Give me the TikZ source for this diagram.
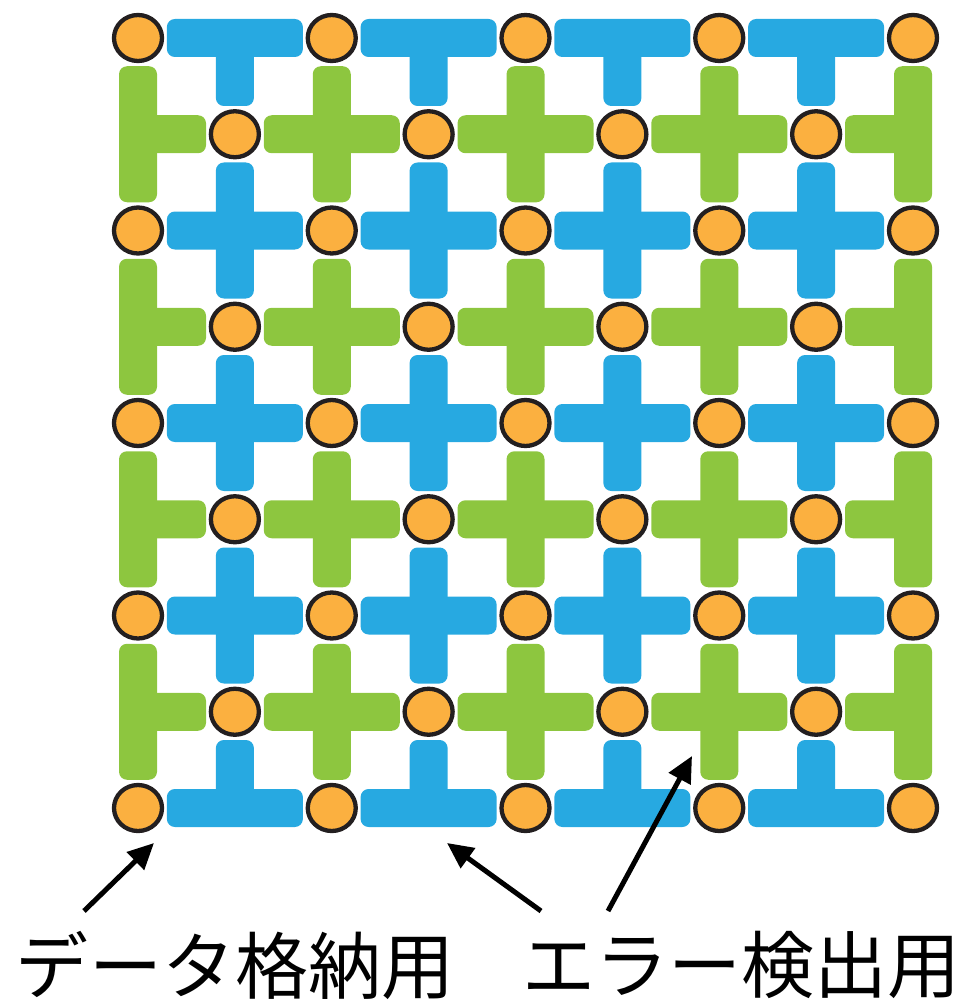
\documentclass[tikz,border=0pt]{standalone}
\usepackage{fontspec}
\newfontfamily\jpfont{Noto Sans CJK JP}
\usetikzlibrary{arrows.meta,shapes.geometric}
\definecolor{qblue}{HTML}{27A9E1}
\definecolor{qgreen}{HTML}{8DC63F}
\definecolor{qorange}{HTML}{FBB040}
\definecolor{qedge}{HTML}{231F20}
\newcommand\qarmH[3]{\fill[#1,rounded corners=8] ({#2-68},{#3-19}) rectangle ({#2+68},{#3+19});}
\newcommand\qarmV[3]{\fill[#1,rounded corners=8] ({#2-19},{#3-68}) rectangle ({#2+19},{#3+68});}
% stem: color, cx, cy, direction (+1 right/down, -1 left/up)
\newcommand\qstemV[4]{\fill[#1,rounded corners=8] ({#2-19},{#3}) rectangle ({#2+19},{#3+68*#4});}
\newcommand\qstemH[4]{\fill[#1,rounded corners=8] ({#2},{#3-19}) rectangle ({#2+68*#4},{#3+19});}
\begin{document}
\begin{tikzpicture}[x=1pt,y=-1pt,
  dataq/.style={ellipse,draw=qedge,fill=qorange,line width=4.3pt,minimum width=48pt,minimum height=46pt,inner sep=0pt},
  lbl/.style={font=\jpfont\fontsize{73}{80}\selectfont,inner sep=0pt,text=black},
  arr/.style={line width=5pt,-{Triangle[length=26pt,width=24pt]}}]
\useasboundingbox (0,0) rectangle (966,1003);
% blue (X-type) stabilizers
\foreach \i in {0,...,3}{
  \foreach \j in {0,...,4}{
    \pgfmathsetmacro\cx{138+193.75*\i+96.875}
    \pgfmathsetmacro\cy{38+192.5*\j}
    \qarmH{qblue}{\cx}{\cy}
    \ifnum\j=0 \qstemV{qblue}{\cx}{\cy}{1}
    \else\ifnum\j=4 \qstemV{qblue}{\cx}{\cy}{-1}
    \else \qarmV{qblue}{\cx}{\cy}\fi\fi
  }
}
% green (Z-type) stabilizers
\foreach \i in {0,...,4}{
  \foreach \j in {0,...,3}{
    \pgfmathsetmacro\cx{138+193.75*\i}
    \pgfmathsetmacro\cy{38+192.5*\j+96.25}
    \qarmV{qgreen}{\cx}{\cy}
    \ifnum\i=0 \qstemH{qgreen}{\cx}{\cy}{1}
    \else\ifnum\i=4 \qstemH{qgreen}{\cx}{\cy}{-1}
    \else \qarmH{qgreen}{\cx}{\cy}\fi\fi
  }
}
% data qubits
\foreach \i in {0,...,4}{
  \foreach \j in {0,...,4}{
    \pgfmathsetmacro\cx{138+193.75*\i}
    \pgfmathsetmacro\cy{38+192.5*\j}
    \node[dataq] (d-\i-\j) at (\cx,\cy) {};
  }
}
\foreach \i in {0,...,3}{
  \foreach \j in {0,...,3}{
    \pgfmathsetmacro\cx{138+193.75*\i+96.875}
    \pgfmathsetmacro\cy{38+192.5*\j+96.25}
    \node[dataq] (h-\i-\j) at (\cx,\cy) {};
  }
}
% labels
\node[lbl] (l1) at (235,965) {データ格納用};
\node[lbl] (l2) at (741,965) {エラー検出用};
% arrows
\coordinate (t1) at (84,911);
\coordinate (e1) at (154,843);
\coordinate (t2) at (541,911);
\coordinate (e2) at (447,843);
\coordinate (t3) at (608,911);
\coordinate (e3) at (692,756);
\draw[arr] (t1) -- (e1);
\draw[arr] (t2) -- (e2);
\draw[arr] (t3) -- (e3);
\end{tikzpicture}
\end{document}
